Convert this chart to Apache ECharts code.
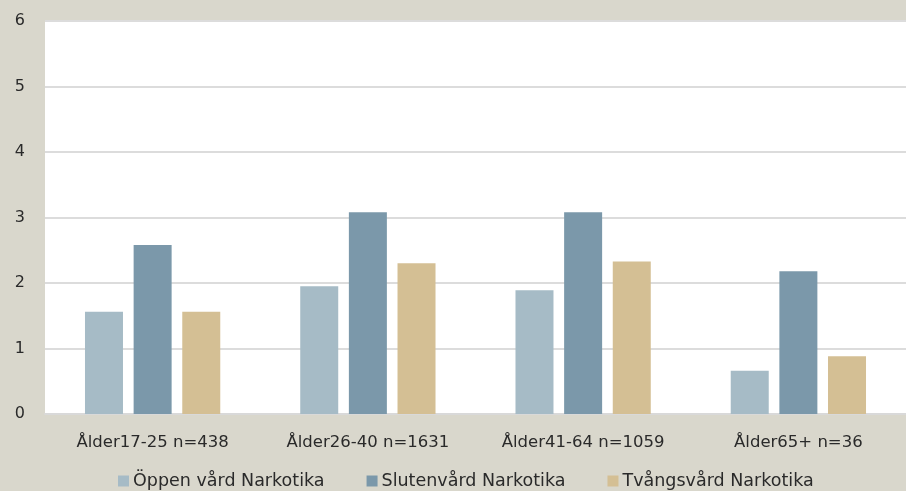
<!DOCTYPE html>
<html>
<head>
<meta charset="utf-8">
<script src="https://cdn.jsdelivr.net/npm/echarts@6/dist/echarts.min.js"></script>
<style>
  html, body { margin: 0; padding: 0; background: #d9d7cc; }
  #chart { width: 906px; height: 491px; }
</style>
</head>
<body>
<div id="chart"></div>
<script>
// Age groups along the x axis
const categories = ['Ålder17-25 n=438', 'Ålder26-40 n=1631', 'Ålder41-64 n=1059', 'Ålder65+ n=36'];
// Values per care type
const oppenVard = [1.56, 1.95, 1.89, 0.66];
const slutenVard = [2.58, 3.08, 3.08, 2.18];
const tvangsVard = [1.56, 2.30, 2.33, 0.88];
const seriesNames = ['Öppen vård Narkotika', 'Slutenvård Narkotika', 'Tvångsvård Narkotika'];
const yTicks = [0, 1, 2, 3, 4, 5, 6];

const font = '"DejaVu Sans", sans-serif';
const colors = ['#a6bbc6', '#7b98aa', '#d4bf94'];

const chart = echarts.init(document.getElementById('chart'));
chart.setOption({
  backgroundColor: '#d9d7cc',
  animation: false,
  grid: {
    left: 45, right: 0, top: 21, bottom: 77,
    show: true, backgroundColor: '#ffffff', borderWidth: 0
  },
  legend: {
    top: 472, left: 118, padding: 0,
    itemWidth: 11, itemHeight: 11, itemGap: 42,
    icon: 'rect',
    textStyle: { fontFamily: font, fontSize: 17.5, color: '#2a2a2a', padding: [0, 0, 0, -1] },
    data: seriesNames
  },
  xAxis: {
    type: 'category',
    data: categories,
    axisTick: { show: false },
    axisLine: { show: true, lineStyle: { color: '#d9d9d9', width: 2 } },
    axisLabel: { fontFamily: font, fontSize: 16.5, color: '#2a2a2a', margin: 20 }
  },
  yAxis: {
    type: 'value',
    min: yTicks[0], max: yTicks[yTicks.length - 1], interval: 1,
    axisLine: { show: false },
    axisTick: { show: false },
    axisLabel: { fontFamily: font, fontSize: 16, color: '#2a2a2a', margin: 20 },
    splitLine: { lineStyle: { color: '#dcdcdc', width: 2 } }
  },
  series: [
    { name: seriesNames[0], type: 'bar', data: oppenVard, itemStyle: { color: colors[0] }, barWidth: 38, barGap: '28%' },
    { name: seriesNames[1], type: 'bar', data: slutenVard, itemStyle: { color: colors[1] }, barWidth: 38, barGap: '28%' },
    { name: seriesNames[2], type: 'bar', data: tvangsVard, itemStyle: { color: colors[2] }, barWidth: 38, barGap: '28%' }
  ]
});
</script>
</body>
</html>
